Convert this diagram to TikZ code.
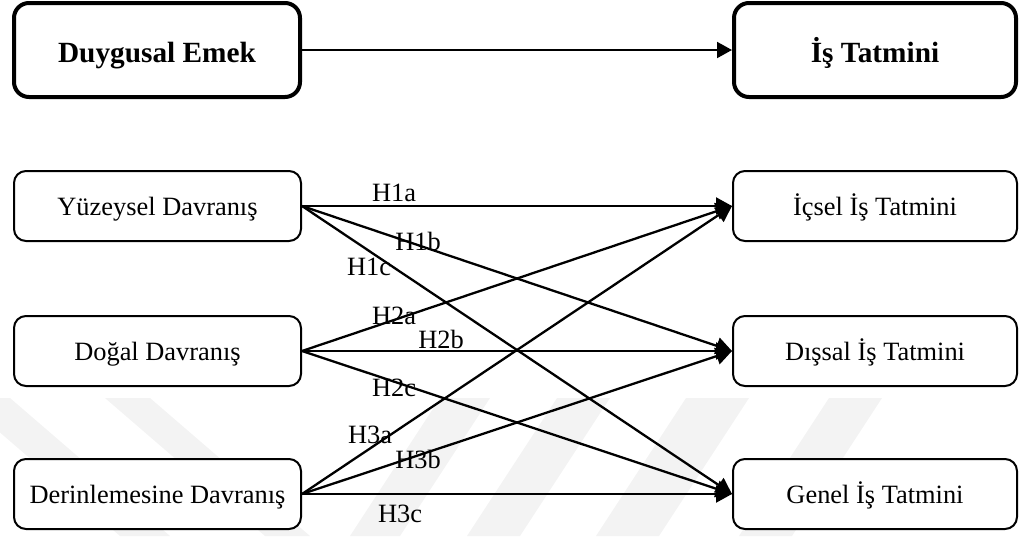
\documentclass[tikz,border=0pt]{standalone}
\usepackage{fontspec}
\setmainfont{Liberation Serif}
\usetikzlibrary{arrows.meta}
\definecolor{wmark}{RGB}{243,243,243}
\begin{document}
\begin{tikzpicture}[x=1pt,y=-1pt,
  topbox/.style={draw, line width=4pt, rounded corners=15pt, fill=white,
    minimum width=286pt, minimum height=94pt, inner sep=0pt,
    text height=24pt, text depth=0pt,
    font=\fontsize{29.3}{32}\selectfont\bfseries},
  subbox/.style={draw, line width=2pt, rounded corners=12pt, fill=white,
    minimum height=70pt, inner sep=0pt, text height=18pt, text depth=0pt,
    font=\fontsize{26.4}{30}\selectfont},
  link/.style={line width=2.3pt, -{Triangle[length=16pt,width=17pt]}},
  hlab/.style={inner sep=0pt, font=\fontsize{26.4}{30}\selectfont},
  stripe/.style={fill=wmark, draw=none}]
\useasboundingbox (0,0) rectangle (1019,536);
% watermark stripes
\foreach \a/\b in {-40/10, 105/150}{
  \fill[stripe] (\a,398) -- (\b,398) -- (\b+160,536) -- (\a+160,536) -- cycle;}
\foreach \a/\b in {440/490, 557/610, 686/749, 829/882}{
  \fill[stripe] (\a,398) -- (\b,398) -- (\b-90,536) -- (\a-90,536) -- cycle;}
% top boxes
\node[topbox] (DE) at (157,50) {Duygusal Emek};
\node[topbox, minimum width=282pt] (IT) at (875,50) {İş Tatmini};
% sub boxes
\node[subbox, minimum width=287pt] (YD) at (157.5,206) {Yüzeysel Davranış};
\node[subbox, minimum width=287pt] (DD) at (157.5,351) {Doğal Davranış};
\node[subbox, minimum width=287pt] (DR) at (157.5,494) {Derinlemesine Davranış};
\node[subbox, minimum width=284pt] (IC) at (875,206) {İçsel İş Tatmini};
\node[subbox, minimum width=284pt] (DS) at (875,351) {Dışsal İş Tatmini};
\node[subbox, minimum width=284pt] (GN) at (875,494) {Genel İş Tatmini};
% connectors
\draw[line width=2pt, -{Triangle[length=15pt,width=16pt]}] (DE) -- (IT);
\draw[link] (YD.east) -- (IC.west);
\draw[link] (YD.east) -- (DS.west);
\draw[link] (YD.east) -- (GN.west);
\draw[link] (DD.east) -- (IC.west);
\draw[link] (DD.east) -- (DS.west);
\draw[link] (DD.east) -- (GN.west);
\draw[link] (DR.east) -- (IC.west);
\draw[link] (DR.east) -- (DS.west);
\draw[link] (DR.east) -- (GN.west);
% labels
\node[hlab] (h1a) at (394,193) {H1a};
\node[hlab] (h1b) at (418,241) {H1b};
\node[hlab] (h1c) at (369,267) {H1c};
\node[hlab] (h2a) at (394,316) {H2a};
\node[hlab] (h2b) at (441,339) {H2b};
\node[hlab] (h2c) at (394,388) {H2c};
\node[hlab] (h3a) at (370,435) {H3a};
\node[hlab] (h3b) at (418,459) {H3b};
\node[hlab] (h3c) at (400,514) {H3c};
\end{tikzpicture}
\end{document}
